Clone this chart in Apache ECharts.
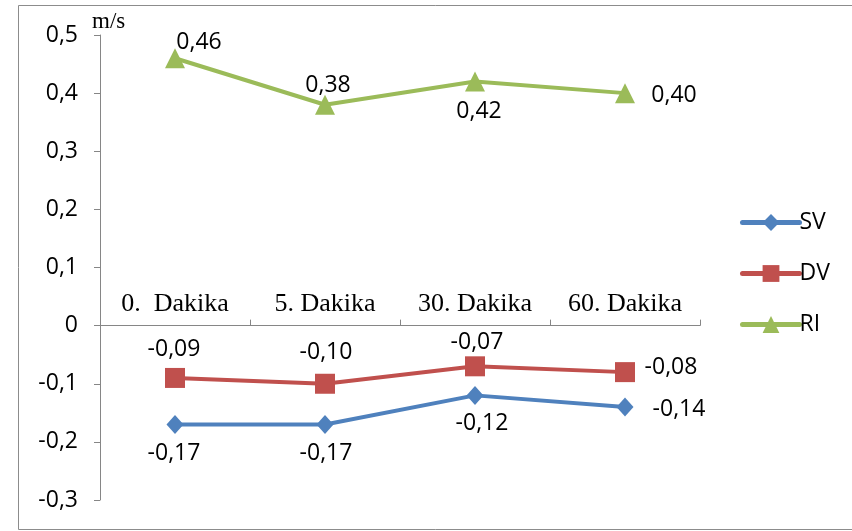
<!DOCTYPE html>
<html>
<head>
<meta charset="utf-8">
<script src="https://cdn.jsdelivr.net/npm/echarts@6/dist/echarts.min.js"></script>
<style>
  html, body { margin: 0; padding: 0; background: #fff; }
  #chart { width: 852px; height: 531px; }
</style>
</head>
<body>
<div id="chart"></div>
<script>
// Measurement times and velocity components (m/s)
const categories = ['0.  Dakika', '5. Dakika', '30. Dakika', '60. Dakika'];
const svValues = [-0.17, -0.17, -0.12, -0.14];
const dvValues = [-0.09, -0.10, -0.07, -0.08];
const riValues = [0.46, 0.38, 0.42, 0.40];
const seriesNames = ['SV', 'DV', 'RI'];
const yTicks = { min: -0.3, max: 0.5, step: 0.1 };

// Label offsets (px) from each marker centre
const svOffsets = [[-1, 29], [1, 29], [7, 28], [54, 2]];
const dvOffsets = [[-1, -28], [1, -31], [2, -24], [46, -5]];
const riOffsets = [[24, -16], [3, -19], [4, 30], [49, 2]];

const decimalComma = v => String(Math.round(v * 100) / 100).replace('.', ',');
const fmt2 = v => v.toFixed(2).replace('.', ',');

const sansFont = '"Open Sans", "Liberation Sans", sans-serif';
const serifFont = '"Liberation Serif", "DejaVu Serif", serif';

const gridBox = { left: 100, right: 152, top: 35, bottom: 31 };
const plotHeight = 531 - gridBox.top - gridBox.bottom;
// Lift the category axis from the grid bottom up to the zero line
const zeroLift = plotHeight * (0 - yTicks.min) / (yTicks.max - yTicks.min);

function withLabels(values, offsets) {
  return values.map((v, i) => ({
    value: v,
    label: { offset: offsets[i] }
  }));
}

function lineSeries(name, values, offsets, color, symbol, size) {
  return {
    name: name,
    type: 'line',
    data: withLabels(values, offsets),
    symbol: symbol,
    symbolSize: size,
    lineStyle: { color: color, width: 4 },
    itemStyle: { color: color },
    label: {
      show: true,
      position: 'inside',
      color: '#000',
      fontFamily: sansFont,
      fontSize: 23,
      formatter: p => fmt2(p.value)
    },
    emphasis: { disabled: true },
    animation: false
  };
}

const chart = echarts.init(document.getElementById('chart'), null, { renderer: 'canvas' });

chart.setOption({
  backgroundColor: '#fff',
  animation: false,
  grid: Object.assign({ containLabel: false }, gridBox),
  graphic: [
    {
      type: 'rect',
      shape: { x: 18.5, y: 5.5, width: 860, height: 524 },
      style: { fill: 'none', stroke: '#8c8c8c', lineWidth: 1 },
      silent: true
    },
    {
      type: 'text',
      left: 92,
      top: 10,
      style: { text: 'm/s', font: '23px ' + serifFont, fill: '#000' },
      silent: true
    }
  ],
  legend: {
    orient: 'vertical',
    left: 735,
    top: 206,
    itemWidth: 57,
    itemHeight: 21,
    itemGap: 28,
    lineStyle: { width: 5, cap: 'round' },
    textStyle: { fontFamily: sansFont, fontSize: 23, color: '#000', padding: [0, 0, 0, -5] },
    data: seriesNames
  },
  xAxis: {
    type: 'category',
    data: categories,
    boundaryGap: true,
    position: 'bottom',
    offset: -zeroLift,
    axisLine: { onZero: false, lineStyle: { color: '#868686', width: 1 } },
    axisTick: { show: true, inside: true, length: 6, lineStyle: { color: '#868686' } },
    axisLabel: {
      inside: true,
      margin: 8,
      fontFamily: serifFont,
      fontSize: 26,
      color: '#000'
    },
    splitLine: { show: false }
  },
  yAxis: {
    type: 'value',
    min: yTicks.min,
    max: yTicks.max,
    interval: yTicks.step,
    axisLine: { show: true, lineStyle: { color: '#868686', width: 1 } },
    axisTick: { show: true, length: 6, lineStyle: { color: '#868686' } },
    axisLabel: {
      margin: 22,
      fontFamily: sansFont,
      fontSize: 23,
      color: '#000',
      formatter: v => decimalComma(v)
    },
    splitLine: { show: false }
  },
  series: [
    lineSeries(seriesNames[0], svValues, svOffsets, '#4F81BD', 'diamond', [17, 19]),
    lineSeries(seriesNames[1], dvValues, dvOffsets, '#C0504D', 'rect', 20),
    lineSeries(seriesNames[2], riValues, riOffsets, '#9BBB59', 'triangle', 20)
  ]
});
</script>
</body>
</html>
